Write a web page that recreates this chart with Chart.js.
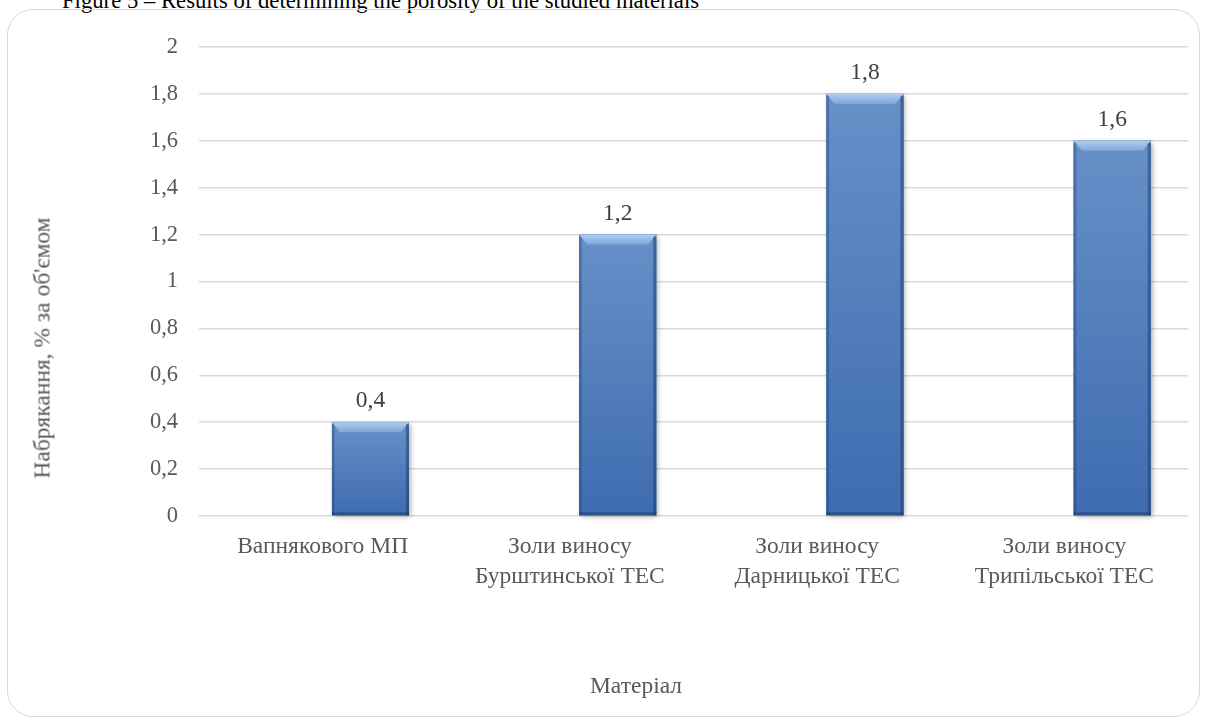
<!DOCTYPE html>
<html>
<head>
<meta charset="utf-8">
<script src="https://cdn.jsdelivr.net/npm/chart.js@4"></script>
<style>
    body { margin: 0; background: #fff; }
    #page { position: relative; width: 1206px; height: 720px; overflow: hidden; font-family: "Liberation Serif", "Times New Roman", serif; }
    #caption { position: absolute; left: 62px; top: -11px; font-size: 22.7px; line-height: 23px; color: #000; white-space: nowrap; }
    #frame { position: absolute; left: 7px; top: 9px; width: 1193px; height: 708px; border: 1.5px solid #d9d9d9; border-radius: 26px; box-sizing: border-box; }
    #chart { position: absolute; left: 0; top: 0; }
    .axis-title { position: absolute; font-size: 23.5px; color: #595959; white-space: nowrap; }
    #y-title { left: 42px; top: 348px; transform: translate(-50%, -50%) rotate(-90deg); }
    #x-title { left: 636px; top: 685px; transform: translate(-50%, -50%); }
</style>
</head>
<body>
<div id="page">
    <div id="caption">Figure 5 – Results of determining the porosity of the studied materials</div>
    <div id="frame"></div>
    <canvas id="chart" width="1206" height="720"></canvas>
    <div class="axis-title" id="y-title">Набрякання, % за об'ємом</div>
    <div class="axis-title" id="x-title">Матеріал</div>
</div>
<script>
// --- data ---
const categories = [
    ['Вапнякового МП'],
    ['Золи виносу', 'Бурштинської ТЕС'],
    ['Золи виносу', 'Дарницької ТЕС'],
    ['Золи виносу', 'Трипільської ТЕС'],
];
const emptySeries = [null, null, null, null]; // hidden first series of the original chart
const swelling = [0.4, 1.2, 1.8, 1.6];
const yMin = 0;
const yMax = 2;
const yStep = 0.2;

const FONT = '"Liberation Serif", "Times New Roman", serif';
const fmt = v => (Math.round(v * 10) / 10).toString().replace('.', ',');

// bevel + shadow look of the bars, using the bar elements the library laid out
const bevelBars = {
    id: 'bevelBars',
    beforeDatasetsDraw(chart) {
        const ctx = chart.ctx;
        chart.getDatasetMeta(1).data.forEach(bar => {
            const { x, y, base, width } = bar.getProps(['x', 'y', 'base', 'width'], true);
            ctx.save();
            ctx.shadowColor = 'rgba(0,0,0,0.35)';
            ctx.shadowBlur = 5;
            ctx.shadowOffsetX = 2;
            ctx.shadowOffsetY = 2;
            ctx.fillStyle = '#4a78b8';
            ctx.fillRect(x - width / 2, y, width, base - y);
            ctx.restore();
        });
    },
    afterDatasetsDraw(chart) {
        const ctx = chart.ctx;
        chart.getDatasetMeta(1).data.forEach((bar, i) => {
            const { x, y, base, width } = bar.getProps(['x', 'y', 'base', 'width'], true);
            const l = x - width / 2, r = x + width / 2;
            ctx.save();
            // body gradient
            const g = ctx.createLinearGradient(0, y, 0, base);
            g.addColorStop(0, '#6790c8');
            g.addColorStop(1, '#3e6cb0');
            ctx.fillStyle = g;
            ctx.fillRect(l, y, width, base - y);
            // top bevel
            const bh = 10, bw = 8;
            const tg = ctx.createLinearGradient(0, y, 0, y + bh);
            tg.addColorStop(0, '#b3cdee');
            tg.addColorStop(1, '#7ea5d8');
            ctx.fillStyle = tg;
            ctx.beginPath();
            ctx.moveTo(l, y); ctx.lineTo(r, y); ctx.lineTo(r - bw, y + bh); ctx.lineTo(l + bw, y + bh);
            ctx.closePath(); ctx.fill();
            // side and bottom edges
            ctx.fillStyle = 'rgba(25,55,105,0.35)';
            ctx.fillRect(l, y + 2, 2.5, base - y - 2);
            ctx.fillStyle = 'rgba(25,55,105,0.5)';
            ctx.fillRect(r - 3, y + 2, 3, base - y - 2);
            ctx.fillRect(l, base - 3, width, 3);
            // value label
            ctx.fillStyle = '#404040';
            ctx.font = '23.5px ' + FONT;
            ctx.textAlign = 'center';
            ctx.textBaseline = 'alphabetic';
            ctx.fillText(fmt(swelling[i]), x, y - 15);
            ctx.restore();
        });
    }
};

new Chart(document.getElementById('chart'), {
    type: 'bar',
    data: {
        labels: categories,
        datasets: [
            { label: '', data: emptySeries, backgroundColor: 'rgba(0,0,0,0)' },
            { label: 'Набрякання', data: swelling, backgroundColor: '#4a78b8', borderWidth: 0 },
        ]
    },
    options: {
        responsive: false,
        devicePixelRatio: 1,
        animation: false,
        categoryPercentage: 0.774,
        barPercentage: 0.805,
        layout: { padding: { top: 47, right: 18, left: 0, bottom: 0 } },
        plugins: { legend: { display: false }, tooltip: { enabled: false } },
        scales: {
            x: {
                grid: { display: false },
                border: { display: false },
                ticks: {
                    color: '#595959',
                    font: { family: FONT, size: 23.5, lineHeight: 1.28 },
                    padding: 8,
                    maxRotation: 0,
                    autoSkip: false,
                },
                afterFit: s => { s.height = 204; },
            },
            y: {
                min: yMin,
                max: yMax,
                grid: { color: '#d9d9d9', lineWidth: 1.5, drawTicks: false },
                border: { display: false },
                ticks: {
                    stepSize: yStep,
                    color: '#595959',
                    font: { family: FONT, size: 22.5 },
                    padding: 21,
                    callback: v => fmt(v),
                },
                afterFit: s => { s.width = 199; },
            }
        }
    },
    plugins: [bevelBars]
});
</script>
</body>
</html>
